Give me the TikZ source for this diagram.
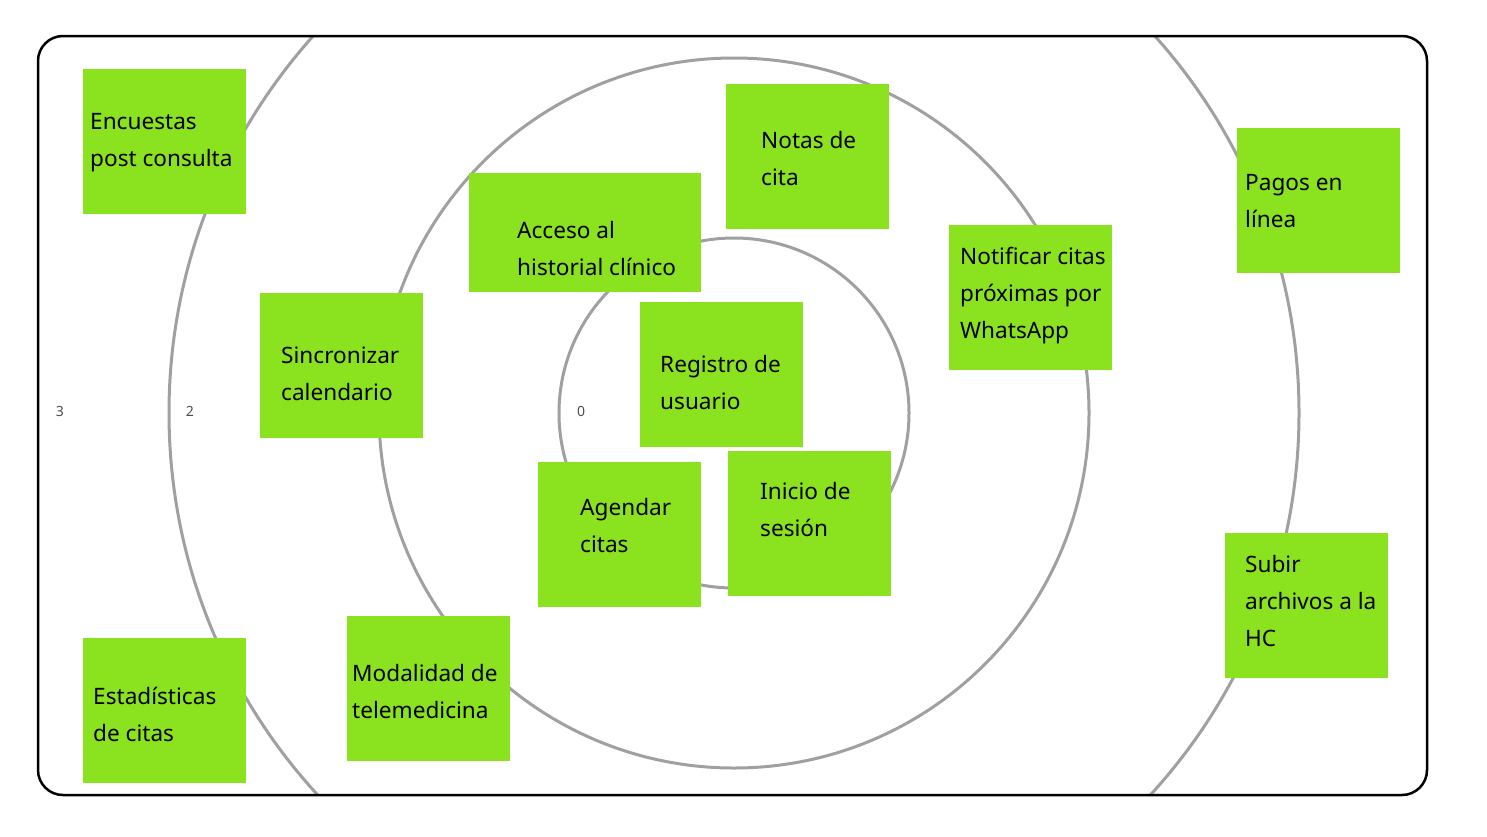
\documentclass[tikz,border=0pt]{standalone}
\usepackage{fontspec}
\setmainfont{Noto Sans}
\definecolor{stickygreen}{HTML}{8BE320}
\definecolor{ringgray}{HTML}{A0A0A0}
\begin{document}
\begin{tikzpicture}[x=1pt,y=-1pt,
  box/.style={fill=stickygreen, draw=none, inner sep=0pt, anchor=north west},
  txt/.style={anchor=west, align=left, font=\fontsize{22.6}{37}\selectfont, inner sep=0pt},
  ring/.style={draw=ringgray, line width=3pt},
  lvl/.style={font=\fontsize{14}{16}\selectfont, text=black!70, inner sep=0pt},
  frame/.style={draw=black, line width=2.5pt, rounded corners=25pt}]
\useasboundingbox (0,0) rectangle (1487,836);
\coordinate (c) at (734,413);
\begin{scope}
  \clip[rounded corners=25pt] (38,36) rectangle (1427,795);
  \draw[ring] (c) circle[radius=175];
  \draw[ring] (c) circle[radius=355];
  \draw[ring] (c) circle[radius=565];
\end{scope}
\node[lvl] (l3) at (60,411) {3};
\node[lvl] (l2) at (190,411) {2};
\node[lvl] (l0) at (581,411) {0};

% boxes
\node[box, minimum width=163pt, minimum height=145pt] (b1) at (83,69) {};
\node[box, minimum width=163pt, minimum height=145pt] (b2) at (726,84) {};
\node[box, minimum width=232pt, minimum height=119pt] (b3) at (469,173) {};
\node[box, minimum width=163pt, minimum height=145pt] (b4) at (1237,128) {};
\node[box, minimum width=163pt, minimum height=145pt] (b5) at (949,225) {};
\node[box, minimum width=163pt, minimum height=145pt] (b6) at (260,293) {};
\node[box, minimum width=163pt, minimum height=145pt] (b7) at (640,302) {};
\node[box, minimum width=163pt, minimum height=145pt] (b8) at (538,462) {};
\node[box, minimum width=163pt, minimum height=145pt] (b9) at (728,451) {};
\node[box, minimum width=163pt, minimum height=145pt] (b10) at (1225,533) {};
\node[box, minimum width=163pt, minimum height=145pt] (b11) at (83,638) {};
\node[box, minimum width=163pt, minimum height=145pt] (b12) at (347,616) {};

% texts
\node[txt] (t1) at (90,143) {Encuestas\\post consulta};
\node[txt] (t2) at (761,159) {Notas de\\cita};
\node[txt] (t3) at (517,249) {Acceso al\\historial clínico};
\node[txt] (t4) at (1245,201) {Pagos en\\línea};
\node[txt] (t5) at (960,296) {Notificar citas\\próximas por\\WhatsApp};
\node[txt] (t6) at (281,374) {Sincronizar\\calendario};
\node[txt] (t7) at (660,383) {Registro de\\usuario};
\node[txt] (t8) at (580,526) {Agendar\\citas};
\node[txt] (t9) at (760,510) {Inicio de\\sesión};
\node[txt] (t10) at (1245,601) {Subir\\archivos a la\\HC};
\node[txt] (t11) at (93,714) {Estadísticas\\de citas};
\node[txt] (t12) at (352,692) {Modalidad de\\telemedicina};

\draw[frame] (38,36) rectangle (1427,795);
\end{tikzpicture}
\end{document}
